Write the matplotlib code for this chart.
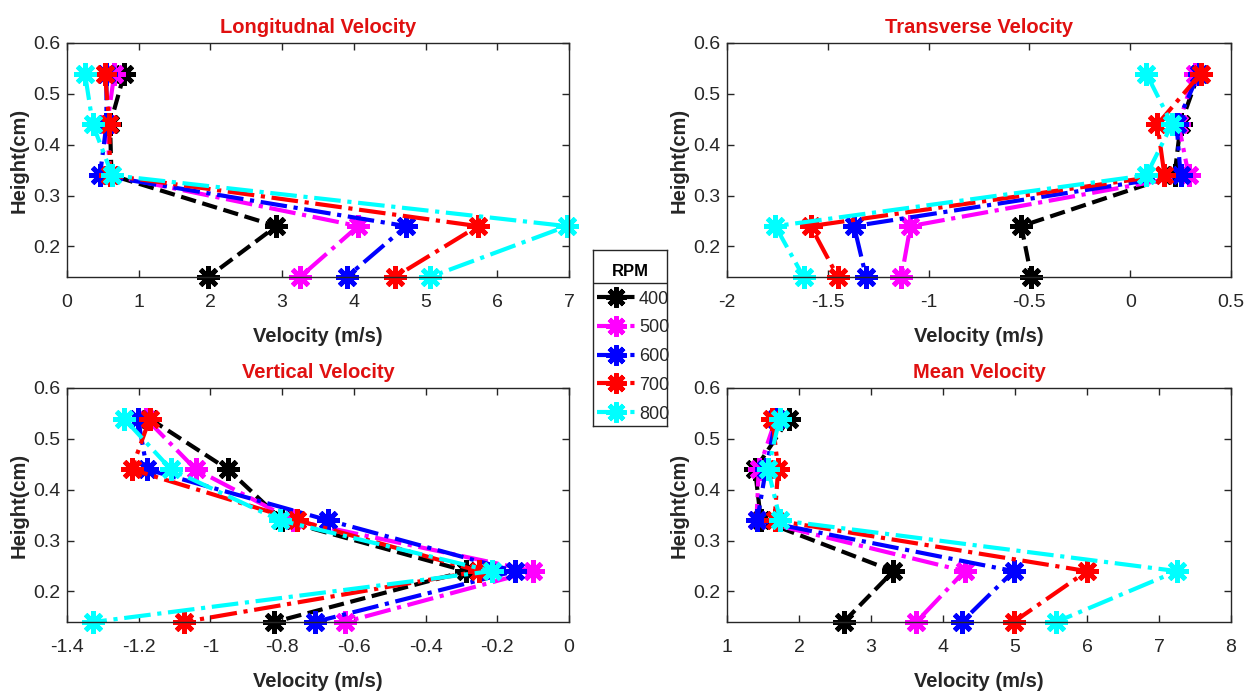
import matplotlib
matplotlib.use('Agg')
import matplotlib.pyplot as plt
from matplotlib.ticker import FuncFormatter

plt.rcParams['font.family'] = ['Liberation Sans', 'DejaVu Sans']
plt.rcParams['axes.unicode_minus'] = False

heights = [0.54, 0.44, 0.34, 0.24, 0.14]
rpm = ['400', '500', '600', '700', '800']

longitudinal = {
    '400': [0.80, 0.60, 0.62, 2.92, 1.97],
    '500': [0.66, 0.56, 0.60, 4.06, 3.25],
    '600': [0.55, 0.55, 0.46, 4.73, 3.90],
    '700': [0.53, 0.59, 0.60, 5.73, 4.57],
    '800': [0.25, 0.36, 0.63, 6.97, 5.06],
}
transverse = {
    '400': [0.34, 0.25, 0.22, -0.54, -0.49],
    '500': [0.32, 0.24, 0.29, -1.09, -1.135],
    '600': [0.34, 0.23, 0.25, -1.37, -1.31],
    '700': [0.35, 0.135, 0.17, -1.585, -1.45],
    '800': [0.08, 0.207, 0.08, -1.76, -1.62],
}
vertical = {
    '400': [-1.17, -0.951, -0.80, -0.286, -0.822],
    '500': [-1.18, -1.041, -0.77, -0.10, -0.625],
    '600': [-1.202, -1.177, -0.672, -0.151, -0.709],
    '700': [-1.169, -1.22, -0.758, -0.25, -1.074],
    '800': [-1.241, -1.11, -0.807, -0.216, -1.327],
}
mean = {
    '400': [1.86, 1.39, 1.47, 3.31, 2.62],
    '500': [1.68, 1.44, 1.41, 4.30, 3.63],
    '600': [1.68, 1.54, 1.42, 4.98, 4.26],
    '700': [1.63, 1.71, 1.66, 6.00, 4.98],
    '800': [1.73, 1.57, 1.74, 7.25, 5.57],
}

colors = {'400': 'k', '500': '#ff00ff', '600': '#0000ff', '700': '#ff0000', '800': '#00ffff'}
styles = {'400': '--', '500': '-.', '600': '-.', '700': '-.', '800': '-.'}

panels = [
    ('Longitudnal Velocity', longitudinal, (0, 7), [0, 1, 2, 3, 4, 5, 6, 7],
     [67, 43, 569, 277]),
    ('Transverse Velocity', transverse, (-2, 0.5), [-2, -1.5, -1, -0.5, 0, 0.5],
     [727, 43, 1231, 277]),
    ('Vertical Velocity', vertical, (-1.4, 0), [-1.4, -1.2, -1, -0.8, -0.6, -0.4, -0.2, 0],
     [67, 388, 569, 622]),
    ('Mean Velocity', mean, (1, 8), [1, 2, 3, 4, 5, 6, 7, 8],
     [727, 388, 1231, 622]),
]

W, H = 1252, 696
fig = plt.figure(figsize=(W / 100, H / 100), dpi=100)
fmt = FuncFormatter(lambda v, p: '%g' % v)
gray = '#262626'

handles = []
for title, data, xlim, xticks, (l, t, r, b) in panels:
    ax = fig.add_axes([l / W, 1 - b / H, (r - l) / W, (b - t) / H])
    hs = []
    for k in rpm:
        h, = ax.plot(data[k], heights, color=colors[k], linestyle=styles[k],
                     linewidth=3, marker=(8, 2, 0), markersize=16,
                     markeredgewidth=3.5, label=k, clip_on=False)
        hs.append(h)
    if not handles:
        handles = hs
    ax.set_xlim(*xlim)
    ax.set_ylim(0.14, 0.6)
    ax.set_xticks(xticks)
    ax.set_yticks([0.2, 0.3, 0.4, 0.5, 0.6])
    ax.xaxis.set_major_formatter(fmt)
    ax.yaxis.set_major_formatter(fmt)
    ax.tick_params(direction='in', top=True, right=True, length=5, width=1,
                   labelsize=14, colors=gray, labelcolor=gray)
    ax.tick_params(axis='x', pad=12)
    ax.tick_params(axis='y', pad=5)
    for s in ax.spines.values():
        s.set_color(gray)
        s.set_linewidth(1)
    ax.set_title(title, color='#e01010', fontsize=14.5, fontweight='bold', pad=7)
    ax.set_xlabel('Velocity (m/s)', fontsize=14.5, fontweight='bold', color=gray,
                  labelpad=12)
    ax.set_ylabel('Height(cm)', fontsize=14.5, fontweight='bold', color=gray,
                  labelpad=3)

# legend box with RPM heading
lax = fig.add_axes([593 / W, 1 - 426 / H, 74 / W, 176 / H])
lax.set_xticks([])
lax.set_yticks([])
lax.set_xlim(0, 1)
lax.set_ylim(0, 1)
for s in lax.spines.values():
    s.set_color(gray)
    s.set_linewidth(1)
lax.text(0.5, 0.875, 'RPM', ha='center', va='center', fontsize=12,
         fontweight='bold')
lax.axhline(0.8125, color=gray, linewidth=1)
lax.legend(handles, rpm, loc='upper left', bbox_to_anchor=(0.0, 0.79),
           frameon=False, fontsize=13, handlelength=2.2, handletextpad=0.15,
           labelspacing=0.65, borderpad=0.2, borderaxespad=0.0,
           markerscale=0.9, labelcolor=gray)

plt.savefig('out.png', dpi=100)
